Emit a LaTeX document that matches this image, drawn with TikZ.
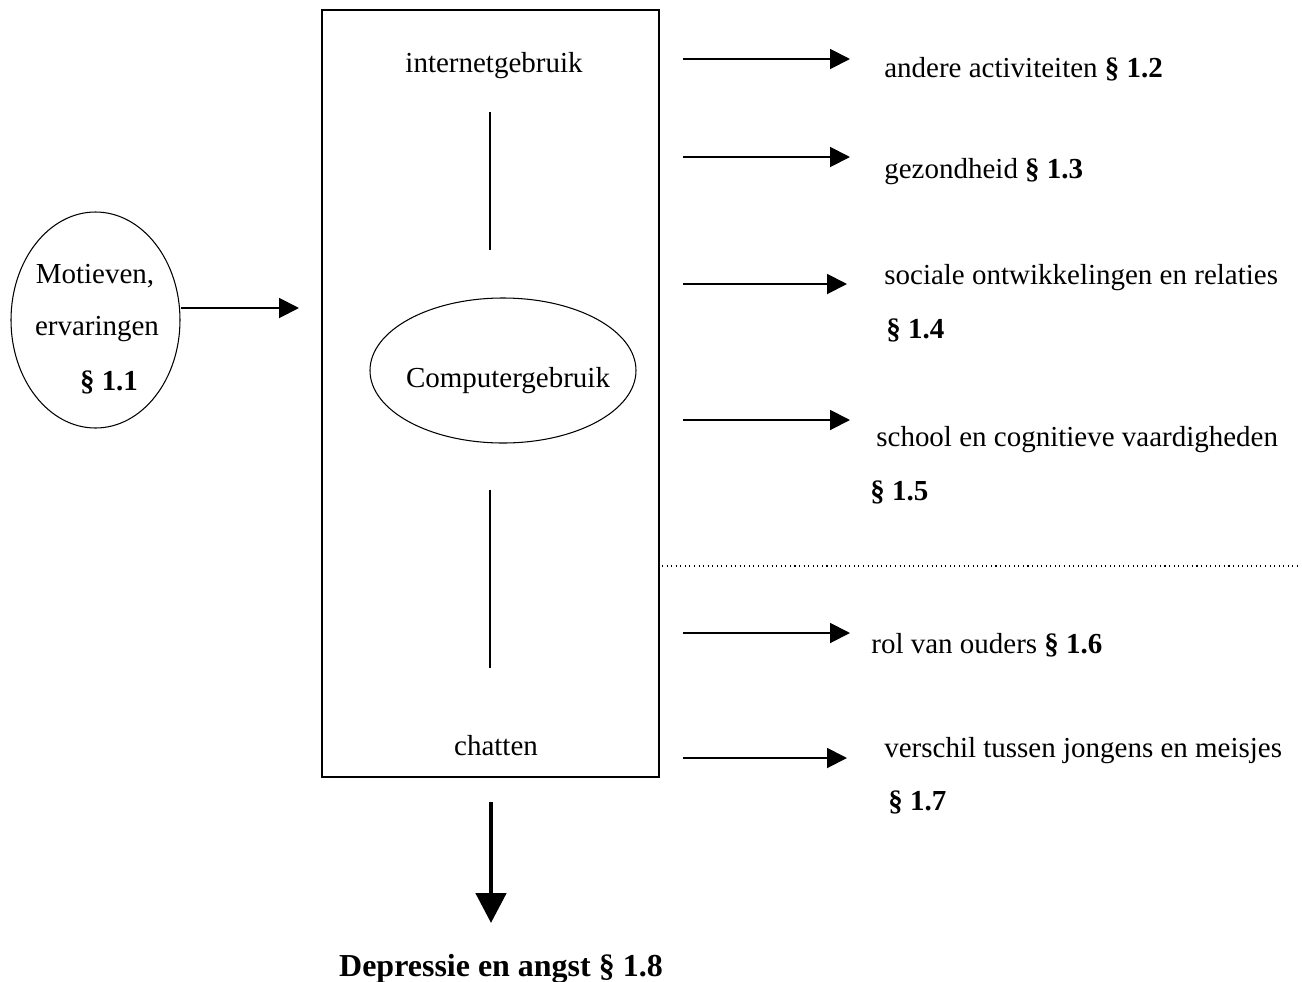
\documentclass[tikz,border=0pt]{standalone}
\usepackage{fontspec}
\setmainfont{Liberation Serif}
\usetikzlibrary{arrows.meta,shapes.geometric}
\begin{document}
\begin{tikzpicture}[x=0.02cm,y=-0.02cm,
  txt/.style={inner sep=0pt,font=\fontsize{16.5}{20}\selectfont},
  thinarrow/.style={line width=1.1pt,-{Triangle[length=0.4cm,width=0.4cm]}},
  thickarrow/.style={line width=2.8pt,-{Triangle[length=0.6cm,width=0.6cm]}},
  plainline/.style={line width=0.6pt}]
\useasboundingbox (0,0) rectangle (1302,981);
% main box
\node[draw,line width=0.9pt,minimum width=337*0.02cm,minimum height=767*0.02cm,inner sep=0pt] (box) at (490.5,393.5) {};
\node[txt] (inet) at (494,66) {internetgebruik};
\node[txt] (chat) at (496,746) {chatten};
\node[draw,ellipse,line width=0.6pt,minimum width=266*0.02cm,minimum height=145*0.02cm,inner sep=0pt] (comp) at (503,370.5) {};
\node[txt] (comptxt) at (508,381) {Computergebruik};
\coordinate (l1a) at (490,112); \coordinate (l1b) at (490,250);
\coordinate (l2a) at (490,490); \coordinate (l2b) at (490,668);
\draw[plainline] (l1a) -- (l1b);
\draw[plainline] (l2a) -- (l2b);
% left ellipse
\node[draw,ellipse,line width=0.6pt,minimum width=169*0.02cm,minimum height=216*0.02cm,inner sep=0pt] (mot) at (95.5,320) {};
\node[txt] (m1) at (95,276) {Motieven,};
\node[txt] (m2) at (97,329) {ervaringen};
\node[txt,font=\fontsize{16.5}{20}\selectfont\bfseries] (m3) at (109,382) {§ 1.1};
\coordinate (motend) at (299,308);
\draw[thinarrow] (mot.east |- motend) -- (motend);
% right arrows
\foreach \y/\e [count=\i] in {59/850,157/850,284/847,420/850,633/850,758/847}{
  \coordinate (s\i) at (683,\y); \coordinate (e\i) at (\e,\y);
  \draw[thinarrow] (s\i) -- (e\i);
}
\node[txt,anchor=base west] (t2) at (884,77) {andere activiteiten \textbf{§ 1.2}};
\node[txt,anchor=base west] (t3) at (884,178) {gezondheid \textbf{§ 1.3}};
\node[txt,anchor=base west] (t4a) at (884,284) {sociale ontwikkelingen en relaties};
\node[txt,anchor=base west] (t4b) at (886,338) {\textbf{§ 1.4}};
\node[txt,anchor=base west] (t5a) at (876,446) {school en cognitieve vaardigheden};
\node[txt,anchor=base west] (t5b) at (870,500) {\textbf{§ 1.5}};
\node[txt,anchor=base west] (t6) at (871,653) {rol van ouders \textbf{§ 1.6}};
\node[txt,anchor=base west] (t7a) at (884,757) {verschil tussen jongens en meisjes};
\node[txt,anchor=base west] (t7b) at (888,810) {\textbf{§ 1.7}};
% dotted line
\coordinate (d1) at (662,566); \coordinate (d2) at (1302,566);
\draw[line width=0.6pt,dotted] (d1) -- (d2);
% bottom arrow
\coordinate (ba) at (491,802); \coordinate (bb) at (491,923);
\draw[thickarrow] (ba) -- (bb);
\node[txt,anchor=base,font=\fontsize{18.2}{22}\selectfont\bfseries] (dep) at (501,976) {Depressie en angst § 1.8};
\end{tikzpicture}
\end{document}
